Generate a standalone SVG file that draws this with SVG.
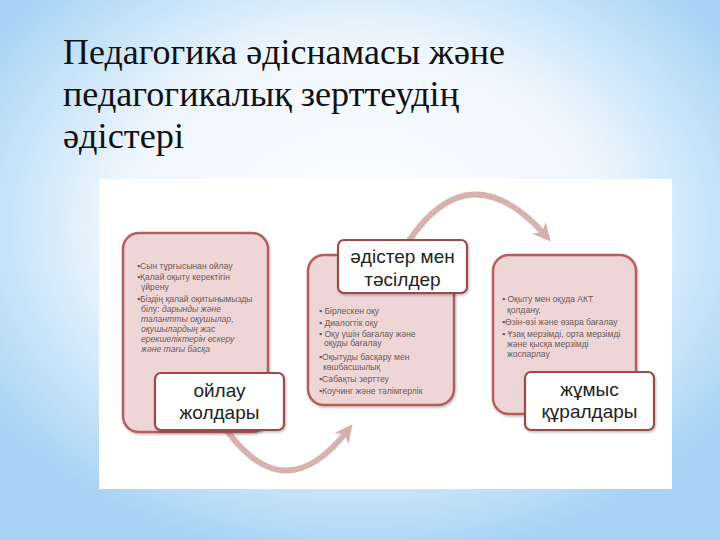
<svg xmlns="http://www.w3.org/2000/svg" width="720" height="540" viewBox="0 0 720 540">
<defs>
<radialGradient id="bg" cx="50%" cy="42%" r="62%">
<stop offset="0" stop-color="#ffffff"/>
<stop offset="0.55" stop-color="#eef6fd"/>
<stop offset="1" stop-color="#a6d3f4"/>
</radialGradient>
<marker id="ah" viewBox="0 0 10 10" refX="6" refY="5" markerWidth="3" markerHeight="3" orient="auto" markerUnits="strokeWidth">
<path d="M0,0 L10,5 L0,10 L3,5 Z" fill="#d7adad"/>
</marker>
<filter id="sh" x="-10%" y="-10%" width="130%" height="130%">
<feDropShadow dx="1" dy="1.5" stdDeviation="1.2" flood-color="#000" flood-opacity="0.25"/>
</filter>
</defs>
<style>
.title{font-family:"Liberation Serif","Times New Roman",serif;font-size:36px;fill:#111}
.card{fill:#efd6d6;stroke:#b35e5e;stroke-width:2.5}
.lab{fill:#ffffff;stroke:#9e4a4a;stroke-width:2.2}
.lt{font-family:"Liberation Sans",Arial,sans-serif;font-size:19px;fill:#222;text-anchor:middle}
.bt{font-family:"Liberation Sans",Arial,sans-serif;font-size:8.6px;fill:#6a5a5a}
.it{font-style:italic}
.arc{fill:none;stroke:#d8b1b1;stroke-width:6;stroke-linecap:round}
</style>
<rect width="720" height="540" fill="url(#bg)"/>
<g id="title">
<text class="title" x="63" y="64" textLength="442" lengthAdjust="spacingAndGlyphs">Педагогика әдіснамасы және</text>
<text class="title" x="63" y="106" textLength="396" lengthAdjust="spacingAndGlyphs">педагогикалық зерттеудің</text>
<text class="title" x="63" y="148" textLength="121" lengthAdjust="spacingAndGlyphs">әдістері</text>
</g>
<rect id="panel" x="99" y="179" width="573" height="310" fill="#ffffff"/>
<g id="connectors">
<path class="arc" d="M408 242 Q470 150 546 236" marker-end="url(#ah)"/>
<path class="arc" d="M228 432 Q286 510 348 430" marker-end="url(#ah)"/>
</g>
<g id="node-oilau">
<rect class="card" x="123" y="233" width="145" height="199" rx="16" filter="url(#sh)"/>
<text class="bt" x="137" y="269">▪Сын тұрғысынан ойлау</text>
<text class="bt" x="137" y="280">▪Қалай оқыту керектігін</text>
<text class="bt" x="141" y="290">үйрену</text>
<text class="bt" x="137" y="302">▪Біздің қалай оқитынымызды</text>
<text class="bt" x="141" y="312">білу:  <tspan class="it">дарынды және</tspan></text>
<text class="bt it" x="141" y="322">талантты оқушылар,</text>
<text class="bt it" x="141" y="332">оқушылардың жас</text>
<text class="bt it" x="141" y="342">ерекшеліктерін ескеру</text>
<text class="bt it" x="141" y="352">және тағы басқа</text>
<rect class="lab" x="155" y="373" width="129" height="57" rx="6" filter="url(#sh)"/>
<text class="lt" x="219.5" y="397">ойлау</text>
<text class="lt" x="219.5" y="419">жолдары</text>
</g>
<g id="node-adister">
<rect class="card" x="308" y="255" width="146" height="150" rx="16" filter="url(#sh)"/>
<text class="bt" x="319" y="314">▪ Бірлескен оқу</text>
<text class="bt" x="319" y="326">▪ Диалогтік оқу</text>
<text class="bt" x="319" y="337">▪ Оқу үшін бағалау және</text>
<text class="bt" x="324" y="346">оқуды бағалау</text>
<text class="bt" x="319" y="360">▪Оқытуды басқару мен</text>
<text class="bt" x="323" y="370">көшбасшылық</text>
<text class="bt" x="319" y="382">▪Сабақты зерттеу</text>
<text class="bt" x="319" y="394">▪Коучинг және тәлімгерлік</text>
<rect class="lab" x="338" y="240" width="129" height="53" rx="6" filter="url(#sh)"/>
<text class="lt" x="402.5" y="263">әдістер мен</text>
<text class="lt" x="402.5" y="286">тәсілдер</text>
</g>
<g id="node-jumys">
<rect class="card" x="493" y="255" width="143" height="159" rx="16" filter="url(#sh)"/>
<text class="bt" x="502" y="302">▪ Оқыту мен оқуда АКТ</text>
<text class="bt" x="507" y="313">қолдану,</text>
<text class="bt" x="502" y="325">▪Өзін-өзі және өзара бағалау</text>
<text class="bt" x="502" y="337">▪ Ұзақ мерзімді, орта мерзімді</text>
<text class="bt" x="507" y="347">және қысқа мерзімді</text>
<text class="bt" x="507" y="357">жоспарлау</text>
<rect class="lab" x="525" y="372" width="129" height="58" rx="6" filter="url(#sh)"/>
<text class="lt" x="589.5" y="396">жұмыс</text>
<text class="lt" x="589.5" y="418">құралдары</text>
</g>
</svg>
